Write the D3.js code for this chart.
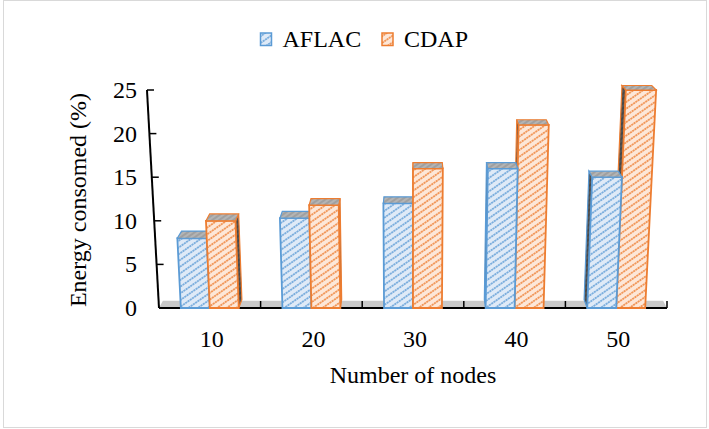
<!DOCTYPE html>
<html>
<head>
<meta charset="utf-8">
<script src="https://cdn.jsdelivr.net/npm/d3@7"></script>
<style>
  body { margin: 0; background: #fff; }
  text { font-family: "Liberation Serif", "Times New Roman", serif; fill: #000; }
</style>
</head>
<body>
<div id="chart"></div>
<script>
// data
var categories = ['10', '20', '30', '40', '50']
var seriesNames = ['AFLAC', 'CDAP']
var aflac = [8, 10.3, 12, 16, 15]
var cdap = [10, 11.8, 16, 21, 25]
var yTicks = [0, 5, 10, 15, 20, 25]

var W = 709, H = 429
var colors = {AFLAC: '#5b9bd5', CDAP: '#ed7d31'}
var lightFill = {AFLAC: '#dfeaf7', CDAP: '#fde7d8'}

var svg = d3.select('#chart').append('svg')
    .attr('width', W)
    .attr('height', H)

// outer border
svg.append('rect')
    .attr('x', 3.5).attr('y', 0.5)
    .attr('width', 703).attr('height', 427)
    .attr('fill', '#fff')
    .attr('stroke', '#d9d9d9')

// hatch patterns
var defs = svg.append('defs')
seriesNames.forEach(function(s) {
    var p = defs.append('pattern')
        .attr('id', 'hatch-' + s)
        .attr('patternUnits', 'userSpaceOnUse')
        .attr('width', 5.5).attr('height', 5.5)
        .attr('patternTransform', 'rotate(-35)')
    p.append('rect').attr('width', 5.5).attr('height', 5.5).attr('fill', lightFill[s])
    p.append('line').attr('x1', 0).attr('x2', 5.5).attr('y1', 2.75).attr('y2', 2.75)
        .attr('stroke', colors[s]).attr('stroke-width', 1.6).attr('stroke-dasharray', '2,0.6')

    var t = defs.append('pattern')
        .attr('id', 'top-' + s)
        .attr('patternUnits', 'userSpaceOnUse')
        .attr('width', 4).attr('height', 4)
        .attr('patternTransform', 'rotate(-35)')
    t.append('rect').attr('width', 4).attr('height', 4).attr('fill', '#b4b4b4')
    t.append('line').attr('x1', 0).attr('x2', 4).attr('y1', 2).attr('y2', 2)
        .attr('stroke', '#8c8c8c').attr('stroke-width', 1)

    var sd = defs.append('pattern')
        .attr('id', 'side-' + s)
        .attr('patternUnits', 'userSpaceOnUse')
        .attr('width', 4).attr('height', 4)
        .attr('patternTransform', 'rotate(-35)')
    sd.append('rect').attr('width', 4).attr('height', 4).attr('fill', '#555')
    sd.append('line').attr('x1', 0).attr('x2', 4).attr('y1', 2).attr('y2', 2)
        .attr('stroke', '#3a3a3a').attr('stroke-width', 1)
})

// scales (front plane)
var x = d3.scaleBand()
    .domain(categories)
    .range([159, 667])
    .paddingInner(0.43)
    .paddingOuter(0.215)

var xs = d3.scaleBand()
    .domain(seriesNames)
    .range([0, x.bandwidth()])

var y = d3.scaleLinear()
    .domain([0, 25])
    .range([308, 90])

// perspective: columns spread upward, depth goes toward a vanishing point above
var cx0 = (x.range()[0] + x.range()[1]) / 2
var spread = 0.000217
var vp = [cx0, -160]
var depthK = 0.018

function proj(px, py, z) {
    var X = cx0 + (px - cx0) * (1 + spread * (y(0) - py))
    var Y = py
    X = X + z * depthK * (vp[0] - X)
    Y = Y + z * depthK * (vp[1] - Y)
    return [X, Y]
}
function poly(pts) { return pts.map(function(p) { return p.join(',') }).join(' ') }

// floor
var fx0 = x.range()[0], fx1 = x.range()[1]
svg.append('polygon')
    .attr('points', poly([proj(fx0, y(0), 0), proj(fx1, y(0), 0), proj(fx1, y(0), 0.85), proj(fx0, y(0), 0.85)]))
    .attr('fill', '#c9c9c9')

// x axis line + ticks
svg.append('line')
    .attr('x1', fx0).attr('x2', fx1)
    .attr('y1', y(0)).attr('y2', y(0))
    .attr('stroke', '#000').attr('stroke-width', 2)

svg.selectAll('xTicks')
    .data(categories)
    .enter()
    .append('line')
    .attr('x1', function(d) { return x(d) + x.bandwidth() + x.step() * x.paddingInner() / 2 })
    .attr('x2', function(d) { return x(d) + x.bandwidth() + x.step() * x.paddingInner() / 2 })
    .attr('y1', y(0))
    .attr('y2', y(0) - 7)
    .attr('stroke', '#000').attr('stroke-width', 1.5)

// y axis (slanted front-left edge)
var axTop = proj(fx0, y(25), 0), axBot = proj(fx0, y(0), 0)
svg.append('line')
    .attr('x1', axBot[0]).attr('y1', axBot[1])
    .attr('x2', axTop[0]).attr('y2', axTop[1])
    .attr('stroke', '#000').attr('stroke-width', 2)

svg.selectAll('yTicks')
    .data(yTicks)
    .enter()
    .append('line')
    .attr('x1', function(d) { return proj(fx0, y(d), 0)[0] })
    .attr('x2', function(d) { return proj(fx0, y(d), 0)[0] + 7 })
    .attr('y1', function(d) { return y(d) })
    .attr('y2', function(d) { return y(d) })
    .attr('stroke', '#000').attr('stroke-width', 1.5)

svg.selectAll('yLabels')
    .data(yTicks)
    .enter()
    .append('text')
    .attr('x', 137)
    .attr('y', function(d) { return y(d) + 8 })
    .attr('text-anchor', 'end')
    .style('font-size', '24px')
    .text(function(d) { return d })

// x labels
svg.selectAll('xLabels')
    .data(categories)
    .enter()
    .append('text')
    .attr('x', function(d) { return x(d) + x.bandwidth() / 2 + 2 })
    .attr('y', 346.5)
    .attr('text-anchor', 'middle')
    .style('font-size', '24px')
    .text(function(d) { return d })

// axis titles
svg.append('text')
    .attr('x', cx0)
    .attr('y', 383)
    .attr('text-anchor', 'middle')
    .style('font-size', '24px')
    .text('Number of nodes')

svg.append('text')
    .attr('transform', 'translate(86,200) rotate(-90)')
    .attr('text-anchor', 'middle')
    .style('font-size', '24px')
    .text('Energy consomed (%)')

// bars
var rows = []
categories.forEach(function(c, i) {
    var bars = [{cat: c, s: 'AFLAC', v: aflac[i]}, {cat: c, s: 'CDAP', v: cdap[i]}]
    var mid = x(c) + x.bandwidth() / 2
    if (mid > cx0 + 5) bars.reverse()   // right of centre: left sides show, draw orange first
    bars.forEach(function(b) { rows.push(b) })
})

var barG = svg.append('g')
rows.forEach(function(b) {
    var x0 = x(b.cat) + xs(b.s), x1 = x0 + xs.bandwidth()
    var y0 = y(0), y1 = y(b.v)
    var bx = (x0 + x1) / 2
    var g = barG.append('g')
    // side face
    var sx = bx < cx0 ? x1 : x0
    g.append('polygon')
        .attr('points', poly([proj(sx, y0, 0), proj(sx, y1, 0), proj(sx, y1, 1), proj(sx, y0, 1)]))
        .attr('fill', 'url(#side-' + b.s + ')')
        .attr('stroke', colors[b.s]).attr('stroke-width', 1.2)
    // front face
    g.append('polygon')
        .attr('points', poly([proj(x0, y0, 0), proj(x1, y0, 0), proj(x1, y1, 0), proj(x0, y1, 0)]))
        .attr('fill', 'url(#hatch-' + b.s + ')')
        .attr('stroke', colors[b.s]).attr('stroke-width', 1.8)
    // top face
    g.append('polygon')
        .attr('points', poly([proj(x0, y1, 0), proj(x1, y1, 0), proj(x1, y1, 1), proj(x0, y1, 1)]))
        .attr('fill', 'url(#top-' + b.s + ')')
        .attr('stroke', colors[b.s]).attr('stroke-width', 1.2)
})

// legend
var legend = svg.selectAll('legend')
    .data(seriesNames)
    .enter()
    .append('g')
    .attr('transform', function(d, i) { return 'translate(' + [260.5, 382][i] + ',33)' })

legend.append('rect')
    .attr('width', 11).attr('height', 12.5)
    .attr('fill', function(d) { return 'url(#hatch-' + d + ')' })
    .attr('stroke', function(d) { return colors[d] }).attr('stroke-width', 1.5)

legend.append('text')
    .attr('x', 22)
    .attr('y', 14)
    .style('font-size', '24px')
    .text(function(d) { return d })
</script>
</body>
</html>
